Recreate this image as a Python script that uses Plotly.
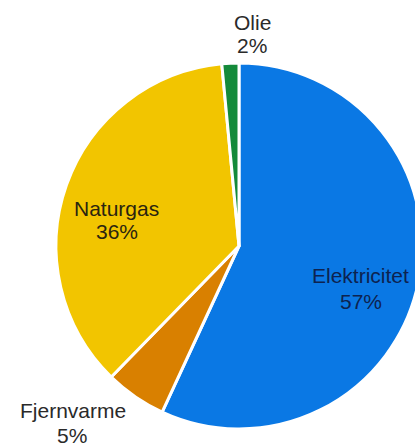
import math
import plotly.graph_objects as go

labels = ["Elektricitet", "Fjernvarme", "Naturgas", "Olie"]
values = [56.9, 5.4, 36.2, 1.5]
colors = ["#0a78e4", "#d98000", "#f2c500", "#148a3a"]
text_colors = ["#0d2350", "#2a2a2a", "#2a2410", "#2a2a2a"]

# label placement (pixels: name x, name y, percent x, percent y)
label_pos = [
    (360, 275, 361, 301),
    (73, 410, 72, 435),
    (116, 208, 117, 231),
    (252, 22, 252, 46),
]

W, H = 430, 448
cx, cy, r = 239, 246, 183

fig = go.Figure(go.Pie(
    labels=labels,
    values=values,
    sort=False,
    direction="clockwise",
    rotation=0,
    marker=dict(colors=colors, line=dict(color="white", width=3)),
    textinfo="none",
    showlegend=False,
    domain=dict(x=[(cx - r) / W, (cx + r) / W], y=[(H - cy - r) / H, (H - cy + r) / H]),
    hoverinfo="label+percent",
))

total = sum(values)
font_family = "Liberation Sans, Arial, sans-serif"
for lab, val, col, (nx, ny, px, py) in zip(labels, values, text_colors, label_pos):
    pct = f"{math.floor(100 * val / total + 0.5)}%"
    for txt, x, y in ((lab, nx, ny), (pct, px, py)):
        fig.add_annotation(
            text=txt, x=x / W, y=1 - y / H, xref="paper", yref="paper",
            xanchor="center", yanchor="middle", showarrow=False,
            font=dict(family=font_family, size=21, color=col),
        )

fig.update_layout(
    width=W, height=H,
    margin=dict(l=0, r=0, t=0, b=0),
    paper_bgcolor="white",
    plot_bgcolor="white",
)

fig.write_html(
    "out.html",
    config={"displayModeBar": False},
    post_script="document.body.style.margin='0';document.body.style.overflow='hidden';document.documentElement.style.overflow='hidden';",
)
